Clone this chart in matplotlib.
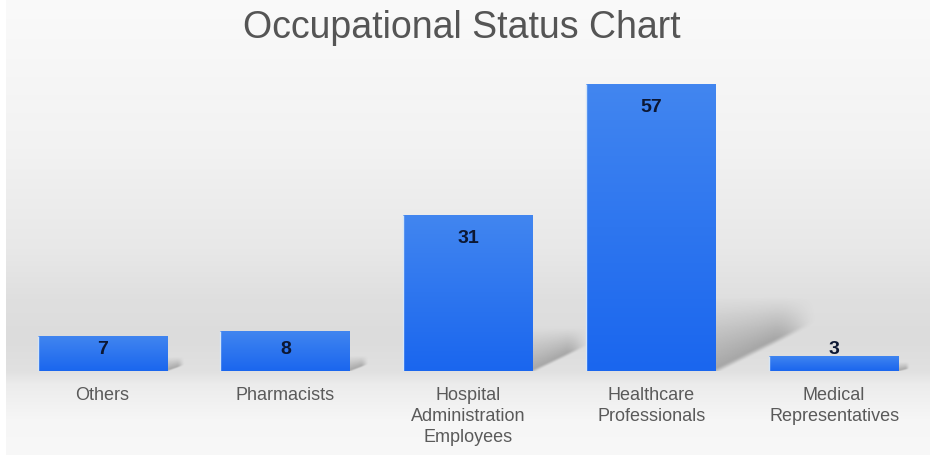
import numpy as np
import matplotlib
matplotlib.use("Agg")
import matplotlib.pyplot as plt

plt.rcParams['font.family'] = ['Liberation Sans', 'DejaVu Sans']

categories = ["Others", "Pharmacists", "Hospital\nAdministration\nEmployees",
              "Healthcare\nProfessionals", "Medical\nRepresentatives"]
values = [7, 8, 31, 57, 3]
title = "Occupational Status Chart"

W, H = 930, 456
fig = plt.figure(figsize=(W / 100, H / 100), dpi=100)
fig.patch.set_facecolor('white')

# background studio gradient
bg = fig.add_axes([6 / W, 0, 1 - 6 / W, 1])
bg.set_axis_off()
ys = np.arange(H)
stops_y = [0, 60, 150, 250, 300, 340, 372, 385, 420, 456]
stops_g = [250, 247, 242, 232, 223, 220, 225, 236, 246, 248]
g = np.interp(ys, stops_y, stops_g) / 255.0
img = np.repeat(g[:, None, None], 3, axis=2)
bg.imshow(img, aspect='auto', extent=[0, 1, 0, 1], interpolation='bilinear')
bg.set_xlim(0, 1)
bg.set_ylim(0, 1)

ax = fig.add_axes([0, 84 / H, 1, 302 / H])
ax.set_facecolor('none')
x = np.arange(len(values))
width = 0.71


def smooth(t):
    t = np.clip(t, 0, 1)
    return t * t * (3 - 2 * t)


# soft shadows behind bars
for xi, v in zip(x, values):
    xr = xi + width / 2
    L = 0.0092 * v + 0.03
    yhi = 0.24 * v + 1.0
    ytop = yhi + 1.5
    uu = np.linspace(0, 1, 140)[None, :]
    yy = np.linspace(ytop, 0, 200)[:, None]
    ylo = uu * 0.175 * v
    d = (yy - ylo) / (yhi - ylo + 1e-9)
    soft = 0.02 * v + 0.3
    lower = smooth((yy - ylo) / soft + 0.5)
    upper = np.clip(1 - d, 0, 1) ** 1.1
    fade = smooth((1 - uu) / 0.45)
    alpha = 0.40 * lower * upper * fade
    rgba = np.zeros(alpha.shape + (4,))
    rgba[..., :3] = 0.3
    rgba[..., 3] = np.clip(alpha, 0, 1)
    ax.imshow(rgba, extent=[xr, xr + L, 0, ytop], aspect='auto', zorder=1,
              interpolation='bilinear')

bars = ax.bar(x, values, width=width, color='#2a74ee', edgecolor='none', zorder=2)

grad = np.linspace(0, 1, 256)[:, None]
top_c = np.array([0x42, 0x86, 0xf0]) / 255
bot_c = np.array([0x1a, 0x66, 0xee]) / 255
gimg = top_c[None, None, :] * (1 - grad[:, :, None]) + bot_c[None, None, :] * grad[:, :, None]
for b in bars:
    x0, w, h = b.get_x(), b.get_width(), b.get_height()
    im = ax.imshow(gimg, extent=[x0, x0 + w, 0, h], aspect='auto', zorder=3,
                   interpolation='bilinear')
    im.set_clip_path(b)
    ax.plot([x0, x0], [0, h], color='#d6e6f7', lw=1.0, zorder=4, solid_capstyle='butt')

ax.set_xlim(-0.5604, 4.524)
ax.set_ylim(0, 60)

for xi, v in zip(x, values):
    yl = max(v - 4.4, 4.4)
    ax.text(xi, yl, str(v), ha='center', va='center', fontsize=14,
            fontweight='bold', color='#0c1733', zorder=5)

ax.set_xticks(x)
ax.set_xticklabels(categories, fontsize=13, color='#5a5a5a', linespacing=1.32)
ax.tick_params(axis='x', length=0, pad=10.5)
ax.set_yticks([])
for sp in ax.spines.values():
    sp.set_visible(False)

fig.text(0.497, 1 - 28 / H, title, ha='center', va='center', fontsize=27, color='#555555')

fig.savefig('out.png', dpi=100)
